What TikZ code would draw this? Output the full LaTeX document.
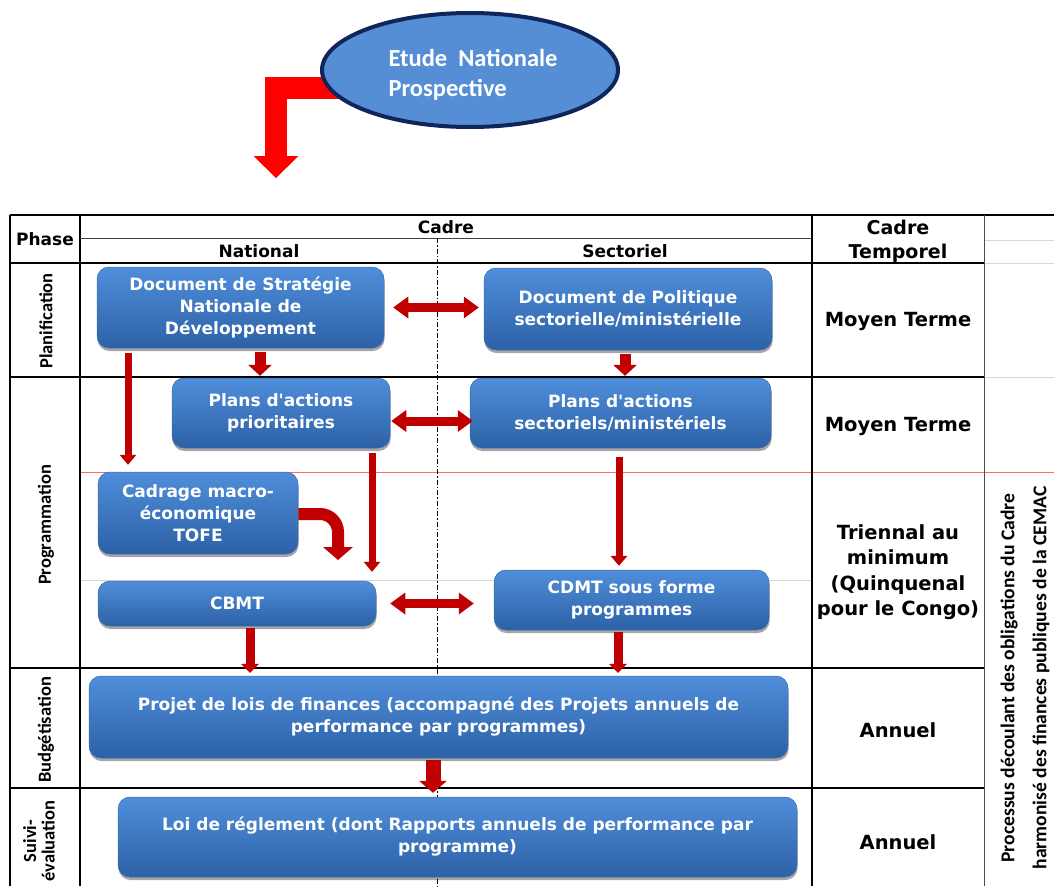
\documentclass[tikz,border=0pt]{standalone}
\usepackage{fontspec}
\setmainfont{DejaVu Sans}[Ligatures=TeXOff]
\newfontfamily\cfont{Carlito}
\usetikzlibrary{arrows.meta,shapes.geometric,shadows}
\definecolor{boxtop}{RGB}{80,142,219}
\definecolor{boxbot}{RGB}{44,97,166}
\definecolor{boxedge}{RGB}{58,108,175}
\definecolor{arr}{RGB}{192,0,0}
\definecolor{ellfill}{RGB}{85,142,213}
\definecolor{elldraw}{RGB}{16,37,90}
\definecolor{gridc}{RGB}{215,215,215}
\definecolor{redline}{RGB}{255,105,105}
\pgfdeclarelayer{bg}
\pgfsetlayers{bg,main}
\begin{document}
\begin{tikzpicture}[x=1pt,y=-1pt,
  tl/.style={line width=1.1pt, draw=black},
  gl/.style={line width=0.8pt, draw=gridc},
  box/.style={rounded corners=12pt, top color=boxtop, bottom color=boxbot, draw=boxedge, line width=0.5pt,
    text=white, font=\bfseries\fontsize{17}{22}\selectfont, align=center, inner sep=0pt,
    drop shadow={shadow xshift=0.5pt, shadow yshift=-3pt, opacity=0.35, fill=black}},
  hdr/.style={font=\bfseries\fontsize{17}{20}\selectfont, inner sep=0pt},
  tmp/.style={font=\bfseries\fontsize{19.5}{25.5}\selectfont, align=center, inner sep=0pt},
  phs/.style={font=\cfont\bfseries\fontsize{18.5}{18.5}\selectfont, rotate=90, align=center, inner sep=0pt},
  arrD/.style={draw=arr, line width=9pt, {Triangle[width=22pt,length=15pt,line width=0pt]}-{Triangle[width=22pt,length=15pt,line width=0pt]}},
  arrB/.style={draw=arr, line width=11pt, -{Triangle[width=24pt,length=11pt,line width=0pt]}},
  arrT/.style={draw=arr, line width=7pt, -{Triangle[width=17pt,length=10pt,line width=0pt]}},
  arrJ/.style={draw=arr, line width=9pt, -{Triangle[width=18pt,length=9pt,line width=0pt]}},
  arrC/.style={draw=arr, line width=12pt, rounded corners=18pt, -{Triangle[width=30pt,length=13pt,line width=0pt]}},
  arrL/.style={draw=arr, line width=15pt, -{Triangle[width=28pt,length=12pt,line width=0pt]}}
]
\useasboundingbox (0,0) rectangle (1054,886);
\clip (0,0) rectangle (1054,886);

% ---------- top ellipse and red arrow ----------
\node[ellipse, minimum width=296pt, minimum height=114pt, fill=ellfill, draw=elldraw, line width=4pt, inner sep=0pt]
  (ens) at (470,70) {};
\node[text=white, font=\cfont\bfseries\fontsize{24.5}{30}\selectfont, align=left, inner sep=0pt]
  (enstext) at (473,75) {Etude\ \ Nationale\\Prospective};
\coordinate (etip) at (276,178);
\begin{pgfonlayer}{bg}
\draw[draw=red, line width=22pt, line join=miter, -{Triangle[width=45pt,length=22pt,line width=0pt]}]
  ([yshift=-18pt]ens.center) -| (etip);
\end{pgfonlayer}

% ---------- table grid ----------
\draw[gl] (984,240) -- (1054,240);
\draw[gl] (984,263) -- (1054,263);
\draw[gl] (984,377) -- (1054,377);
\draw[gl] (80,580) -- (812,580);
\draw[line width=1pt, draw=redline] (80,472) -- (1054,472);
\draw[tl] (10,215) -- (1054,215);
\draw[tl] (10,215) -- (10,886);
\draw[tl] (80,215) -- (80,886);
\draw[tl] (812,215) -- (812,886);
\draw[line width=1pt, draw=black!70] (984,215) -- (984,886);
\draw[line width=0.8pt, draw=black!75] (80,238) -- (812,238);
\draw[tl] (10,263) -- (984,263);
\draw[tl] (10,377) -- (984,377);
\draw[tl] (10,668) -- (984,668);
\draw[tl] (10,788) -- (984,788);
\draw[line width=1pt, dash pattern=on 5pt off 2pt on 1.5pt off 2pt] (437,238) -- (437,886);

% ---------- header ----------
\node[hdr] (phase) at (45,239) {Phase};
\node[hdr] (cadre) at (446,227) {Cadre};
\node[hdr] (nat) at (259,251) {National};
\node[hdr] (sec) at (625,251) {Sectoriel};
\node[tmp, font=\bfseries\fontsize{19}{24}\selectfont] (ctemp) at (898,241) {Cadre\\Temporel};

% ---------- phase labels ----------
\node[phs] (pplan) at (46,321) {Planification};
\node[phs] (pprog) at (46,525) {Programmation};
\node[phs] (pbudg) at (46,730) {Budgétisation};
\node[phs] (psuivi) at (39,841) {Suivi-\\évaluation};

% ---------- temporal column ----------
\node[tmp] (t1) at (898,321) {Moyen Terme};
\node[tmp] (t2) at (898,426) {Moyen Terme};
\node[tmp] (t3) at (898,572) {Triennal au\\minimum\\(Quinquenal\\pour le Congo)};
\node[tmp] (t4) at (898,730) {Annuel};
\node[tmp] (t5) at (898,842) {Annuel};

% ---------- right column ----------
\node[font=\cfont\bfseries\fontsize{19.6}{32}\selectfont, rotate=90, align=center, inner sep=0pt] (proc) at (1025,678)
  {Processus découlant des obligations du Cadre\\harmonisé des finances publiques de la CEMAC};

% ---------- boxes ----------
\node[box, minimum width=287pt, minimum height=81pt] (dsnd) at (240.5,307.5) {Document de Stratégie\\Nationale de\\Développement};
\node[box, minimum width=288pt, minimum height=82pt] (dps) at (628,309) {Document de Politique\\sectorielle/ministérielle};
\node[box, minimum width=218pt, minimum height=70pt] (pap) at (281,413) {Plans d'actions\\prioritaires};
\node[box, minimum width=301pt, minimum height=70pt] (pas) at (620.5,413) {Plans d'actions\\sectoriels/ministériels};
\node[box, minimum width=200pt, minimum height=82pt] (cad) at (198,513) {Cadrage macro-\\économique\\TOFE};
\node[box, minimum width=278pt, minimum height=45pt] (cbmt) at (237,603.5) {CBMT};
\node[box, minimum width=275pt, minimum height=60pt] (cdmt) at (631.5,600) {CDMT sous forme\\programmes};
\node[box, minimum width=699pt, minimum height=82pt] (plf) at (438.5,717) {Projet de lois de finances (accompagné des Projets annuels de\\performance par programmes)};
\node[box, minimum width=679pt, minimum height=80pt] (lr) at (457.5,837) {Loi de réglement (dont Rapports annuels de performance par\\programme)};

% ---------- arrows ----------
\draw[arrD] ([xshift=9pt]dsnd.east) -- ([xshift=-5pt]dsnd.east -| dps.west);
\draw[arrD] ([xshift=1pt,yshift=-8pt]pap.east) -- ([xshift=3pt,yshift=-8pt]pap.east -| pas.west);
\draw[arrD] ([xshift=14pt]cbmt.east) -- ([xshift=-20pt]cbmt.east -| cdmt.west);

\draw[arrB] ([xshift=19.5pt,yshift=-4pt]dsnd.south) -- ([xshift=19.5pt,yshift=2pt]dsnd.south |- pap.north);
\draw[arrB] ([xshift=-3pt,yshift=-4pt]dps.south) -- ([xshift=-3pt,yshift=2pt]dps.south |- pas.north);

\draw[arrT] ([xshift=-112.5pt,yshift=-5pt]dsnd.south) -- ([xshift=-112.5pt,yshift=7pt]dsnd.south |- cad.north);
\draw[arrT] ([xshift=91pt,yshift=-5pt]pap.south) -- ([xshift=91pt,yshift=9pt]pap.south |- cbmt.north);
\draw[arrT] ([xshift=-1.5pt,yshift=-9pt]pas.south) -- ([xshift=-1.5pt,yshift=4pt]pas.south |- cdmt.north);

\coordinate (ctip) at (338,560);
\draw[arrC] ([yshift=-1pt]cad.east) -| (ctip);

\draw[arrJ] ([xshift=13pt,yshift=-2pt]cbmt.south) -- ([xshift=13pt,yshift=3pt]cbmt.south |- plf.north);
\draw[arrJ] ([xshift=-13.5pt,yshift=-2pt]cdmt.south) -- ([xshift=-13.5pt,yshift=3pt]cdmt.south |- plf.north);
\draw[arrL] ([xshift=-5.5pt,yshift=-2pt]plf.south) -- ([xshift=-5.5pt,yshift=4pt]plf.south |- lr.north);
\end{tikzpicture}
\end{document}
